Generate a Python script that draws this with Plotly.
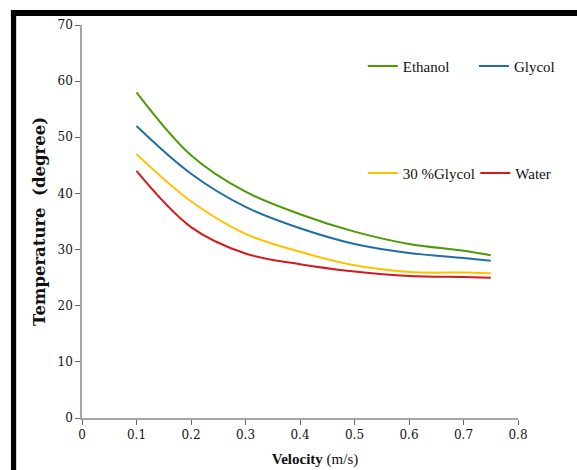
import plotly.graph_objects as go

velocity = [0.1, 0.2, 0.3, 0.4, 0.5, 0.6, 0.7, 0.75]
ethanol = [58, 46.8, 40.3, 36.3, 33.2, 31.0, 29.8, 29.0]
glycol = [52, 43.5, 37.6, 33.8, 31.0, 29.4, 28.5, 28.0]
glycol30 = [47, 38.6, 32.8, 29.6, 27.2, 26.0, 25.9, 25.8]
water = [44, 34.0, 29.3, 27.4, 26.1, 25.3, 25.1, 25.0]

x_ticks = [0, 0.1, 0.2, 0.3, 0.4, 0.5, 0.6, 0.7, 0.8]
x_tick_labels = ["0", "0.1", "0.2", "0.3", "0.4", "0.5", "0.6", "0.7", "0.8"]
y_ticks = [0, 10, 20, 30, 40, 50, 60, 70]

series = [
    ("Ethanol", ethanol, "#4e9a06", "legend"),
    ("Glycol", glycol, "#1f6fa5", "legend2"),
    ("30 %Glycol", glycol30, "#ffc000", "legend3"),
    ("Water", water, "#d7191c", "legend4"),
]

fig = go.Figure()
for name, vals, color, lg in series:
    fig.add_trace(go.Scatter(
        x=velocity, y=vals, name=name, mode="lines",
        line=dict(color=color, width=2, shape="spline", smoothing=1.0),
        legend=lg,
    ))

serif = "Liberation Serif"
tickserif = "DejaVu Serif"
legend_font = dict(family=serif, size=15, color="#111")

def mk_legend(x, y):
    return dict(x=x, y=y, xanchor="left", yanchor="middle", bgcolor="rgba(0,0,0,0)",
                font=legend_font, itemwidth=30, borderwidth=0)

fig.update_layout(
    width=577, height=470,
    margin=dict(l=82, r=59, t=25, b=52, autoexpand=False),
    paper_bgcolor="white", plot_bgcolor="white",
    showlegend=True,
    legend=mk_legend(0.644, 0.895),
    legend2=mk_legend(0.899, 0.895),
    legend3=mk_legend(0.644, 0.623),
    legend4=mk_legend(0.902, 0.623),
    xaxis=dict(
        range=[0, 0.8], tickvals=x_ticks, ticktext=x_tick_labels, automargin=False,
        showgrid=False, zeroline=False, showline=True, linecolor="#a6a6a6", linewidth=1.5,
        ticks="outside", ticklen=5, tickcolor="#666", tickwidth=1,
        tickfont=dict(family=tickserif, size=12, color="#111"),
        title=dict(text="&nbsp;&nbsp;&nbsp;&nbsp;&nbsp;&nbsp;&nbsp;&nbsp;<b>Velocity</b> (m/s)",
                   font=dict(family=serif, size=15, color="#111"), standoff=12),
    ),
    yaxis=dict(
        range=[0, 70], tickvals=y_ticks, automargin=False,
        showgrid=False, zeroline=False, showline=True, linecolor="#a6a6a6", linewidth=1.5,
        ticks="outside", ticklen=5, tickcolor="#666", tickwidth=1,
        tickfont=dict(family=tickserif, size=12, color="#111"),
        title=dict(text="<b>Temperature  (degree)</b>", font=dict(family=tickserif, size=16.5, color="#111"), standoff=8),
    ),
    shapes=[
        dict(type="rect", xref="paper", yref="paper", x0=-0.163, x1=-0.151, y0=-0.14, y1=1.038,
             fillcolor="black", line=dict(width=0), layer="above"),
        dict(type="rect", xref="paper", yref="paper", x0=-0.163, x1=1.15, y0=1.023, y1=1.038,
             fillcolor="black", line=dict(width=0), layer="above"),
    ],
)

fig.write_html("out.html")
